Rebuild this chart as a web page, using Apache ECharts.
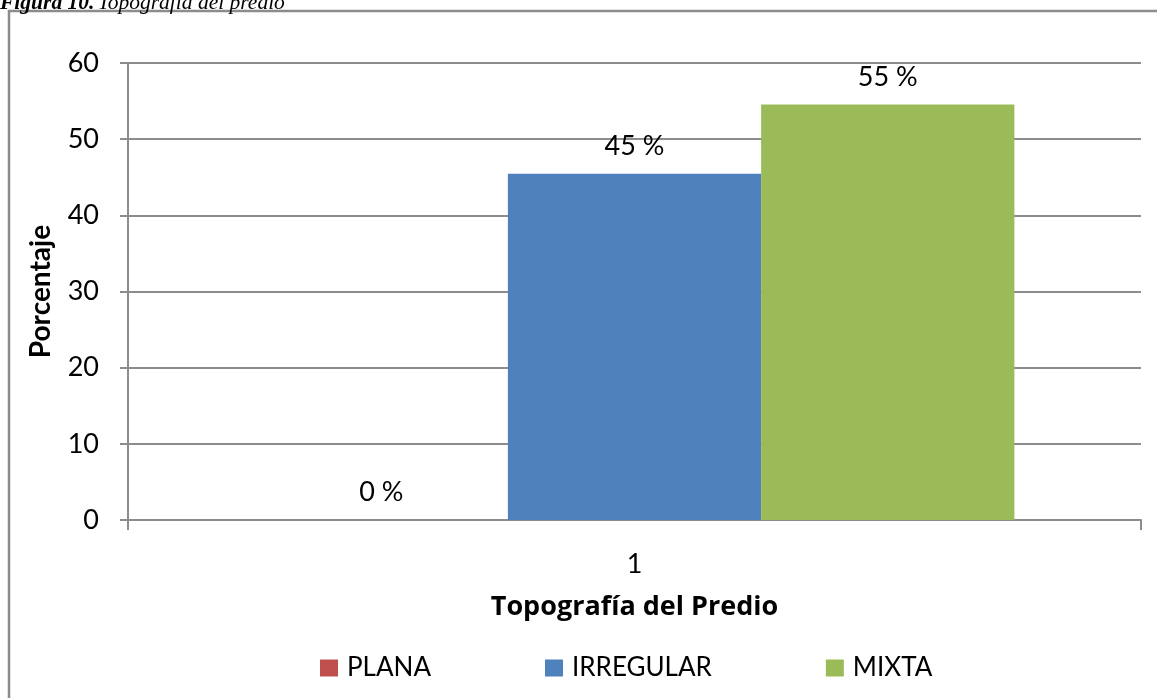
<!DOCTYPE html>
<html><head><meta charset="utf-8">
<script src="https://cdn.jsdelivr.net/npm/echarts@6/dist/echarts.min.js"></script>
<style>html,body{margin:0;padding:0;background:#fff}#c{width:1157px;height:698px}</style>
</head><body><div id="c"></div>
<script>
const categories = ['1'];
const seriesNames = ['PLANA', 'IRREGULAR', 'MIXTA'];
const planaValues = [0];
const irregularValues = [45.45];
const mixtaValues = [54.55];
const yTicks = [0, 10, 20, 30, 40, 50, 60];
const colors = ['#C0504D', '#4F81BD', '#9BBB59'];

const font = 'Lato, "Open Sans", sans-serif';
const fs = 27;
const chart = echarts.init(document.getElementById('c'));
const mk = (name, data, color) => ({
  name, type: 'bar', data, barGap: 0, barCategoryGap: '25%',
  itemStyle: {color},
  label: {show: true, position: 'top', distance: 14, color: '#000', fontSize: fs, fontFamily: font,
    formatter: p => Math.round(p.value) + ' %'}
});
chart.setOption({
  animation: false,
  color: colors,
  graphic: [
    {type: 'rect', shape: {x: 9, y: 11, width: 1300, height: 900}, style: {fill: 'none', stroke: '#8c8c8c', lineWidth: 2.5}},
    {type: 'text', left: 0, top: -8, style: {rich: {b: {fontFamily: '"Liberation Serif", serif', fontWeight: 'bold', fontStyle: 'italic', fontSize: 21.5, fill: '#000'}, i: {fontFamily: '"Liberation Serif", serif', fontStyle: 'italic', fontSize: 21.5, fill: '#000'}}, text: '{b|Figura 10.} {i|Topografía del predio}'}}
  ],
  grid: {left: 128, right: 16, top: 63, bottom: 178, containLabel: false},
  legend: {
    top: 650, left: 315, itemWidth: 18, itemHeight: 17, itemGap: 114, icon: 'rect',
    textStyle: {fontSize: 26, fontFamily: font, color: '#000', padding: [0, 0, 0, 4]},
    data: seriesNames
  },
  xAxis: {
    type: 'category', data: categories,
    name: 'Topografía del Predio', nameLocation: 'middle', nameGap: 74,
    nameTextStyle: {fontSize: 27, fontWeight: 'bold', fontFamily: '"Open Sans", Lato, sans-serif', color: '#000'},
    axisLine: {lineStyle: {color: '#8c8c8c', width: 2}},
    axisTick: {show: true, length: 10, alignWithLabel: false, lineStyle: {color: '#8c8c8c', width: 2}},
    axisLabel: {fontSize: fs, fontFamily: font, color: '#000', margin: 31}
  },
  yAxis: {
    type: 'value', min: yTicks[0], max: yTicks[yTicks.length - 1], interval: 10,
    name: 'Porcentaje', nameLocation: 'middle', nameGap: 73,
    nameTextStyle: {fontSize: 28, fontWeight: 'bold', fontFamily: font, color: '#000'},
    axisLine: {show: true, lineStyle: {color: '#8c8c8c', width: 2}},
    axisTick: {show: true, length: 8, lineStyle: {color: '#8c8c8c', width: 2}},
    axisLabel: {fontSize: fs, fontFamily: font, color: '#000', margin: 29},
    splitLine: {lineStyle: {color: '#8c8c8c', width: 2}}
  },
  series: [
    mk(seriesNames[0], planaValues, colors[0]),
    mk(seriesNames[1], irregularValues, colors[1]),
    mk(seriesNames[2], mixtaValues, colors[2])
  ]
});
</script></body></html>
